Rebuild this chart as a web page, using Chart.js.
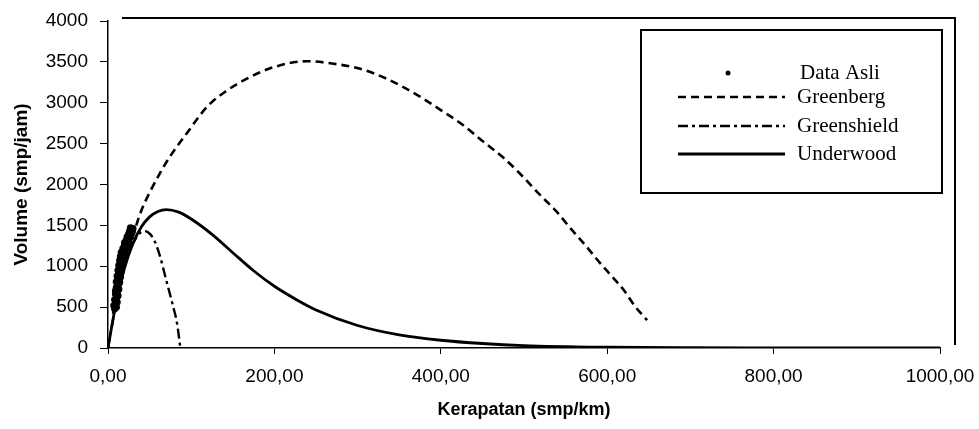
<!DOCTYPE html>
<html>
<head>
<meta charset="utf-8">
<script src="https://cdn.jsdelivr.net/npm/chart.js@4/dist/chart.umd.min.js"></script>
<style>
  body { margin: 0; background: #fff; }
  #wrap { width: 979px; height: 429px; }
</style>
</head>
<body>
<div id="wrap"><canvas id="chart" width="979" height="429"></canvas></div>
<script>
// Data Asli (observed points)
const dataK = [8, 10, 9, 11, 8, 10, 12, 9, 11, 13, 10, 12, 14, 10, 13, 15, 11, 14, 16, 12, 15, 17, 13, 16, 18, 14, 17, 19, 15, 18, 20, 16, 19, 21, 18, 21, 23, 20, 23, 25, 22, 25, 27, 23, 26, 28, 25, 27, 29, 26, 28, 30, 27, 29, 7, 9, 12, 14, 17, 20];
const dataQ = [480, 500, 530, 560, 590, 610, 640, 660, 690, 720, 740, 770, 800, 810, 840, 870, 880, 910, 940, 950, 980, 1000, 1010, 1040, 1060, 1070, 1090, 1110, 1120, 1140, 1160, 1170, 1190, 1210, 1220, 1240, 1260, 1270, 1290, 1310, 1320, 1340, 1360, 1360, 1380, 1400, 1400, 1420, 1440, 1430, 1450, 1460, 1470, 1420, 520, 700, 860, 990, 1130, 1290];

// Greenberg
const greenbergK = [6, 10, 20, 30, 40, 50, 62, 75, 95, 119, 143, 167, 199, 239, 271, 303, 335, 375, 400, 425, 451, 475, 495, 519, 539, 557, 571, 591, 607, 621, 633, 648];
const greenbergQ = [420, 600, 1020, 1370, 1680, 1900, 2130, 2350, 2630, 2950, 3150, 3295, 3435, 3508, 3478, 3415, 3293, 3075, 2910, 2740, 2525, 2330, 2135, 1875, 1670, 1450, 1290, 1045, 860, 695, 515, 340];

// Greenshield
const greenshieldK = [0, 10, 20, 30, 43, 48, 55, 62, 70, 78, 83, 87];
const greenshieldQ = [0, 560, 1000, 1280, 1430, 1415, 1330, 1140, 830, 520, 300, 0];

// Underwood
const underwoodK = [0, 10, 20, 30, 40, 50, 60, 70, 85, 100, 125, 150, 175, 200, 225, 250, 300, 350, 400, 450, 500, 600, 700, 800, 1000];
const underwoodQ = [0, 566, 982, 1279, 1479, 1604, 1670, 1693, 1662, 1578, 1390, 1166, 945, 755, 600, 465, 275, 160, 95, 55, 30, 10, 3, 1, 0];

const xTicks = [0, 200, 400, 600, 800, 1000];
const yTicks = [0, 500, 1000, 1500, 2000, 2500, 3000, 3500, 4000];

const pts = (xs, ys) => xs.map((x, i) => ({ x: x, y: ys[i] }));

// frame lines + legend box drawn by hand
const framePlugin = {
  id: 'frame',
  afterDraw(chart) {
    const ctx = chart.ctx;
    const area = chart.chartArea;
    ctx.save();
    ctx.strokeStyle = '#000';
    ctx.lineWidth = 2;
    ctx.beginPath();
    ctx.moveTo(area.left + 14, area.top - 3);
    ctx.lineTo(955, area.top - 3);
    ctx.lineTo(955, area.bottom - 3);
    ctx.stroke();

    // legend
    ctx.lineWidth = 2;
    ctx.strokeRect(641, 30, 301, 163);
    const ds = chart.data.datasets;
    const rows = [
      { y: 73, tx: 800 },
      { y: 97, tx: 797 },
      { y: 126, tx: 797 },
      { y: 154, tx: 797 }
    ];
    ctx.font = '21px "Liberation Serif", "Times New Roman", serif';
    ctx.textBaseline = 'middle';
    ctx.fillStyle = '#000';
    ds.forEach((d, i) => {
      const r = rows[i];
      if (d.showLine === false) {
        ctx.beginPath();
        ctx.arc(728, r.y, 2.5, 0, Math.PI * 2);
        ctx.fill();
      } else {
        ctx.setLineDash(d.borderDash || []);
        ctx.lineWidth = d.borderWidth;
        ctx.beginPath();
        ctx.moveTo(678, r.y);
        ctx.lineTo(785, r.y);
        ctx.stroke();
        ctx.setLineDash([]);
      }
      ctx.fillText(d.label, r.tx, r.y);
    });
    ctx.restore();
  }
};

const tickFont = { family: '"Liberation Sans", Arial, sans-serif', size: 19 };

new Chart(document.getElementById('chart').getContext('2d'), {
  type: 'scatter',
  data: {
    datasets: [
      {
        label: 'Data Asli',
        data: pts(dataK, dataQ),
        showLine: false,
        pointRadius: 3.6,
        backgroundColor: '#000',
        borderColor: '#000',
        borderWidth: 0
      },
      {
        label: 'Greenberg',
        data: pts(greenbergK, greenbergQ),
        showLine: true,
        pointRadius: 0,
        borderColor: '#000',
        borderWidth: 2.6,
        borderDash: [8, 5],
        cubicInterpolationMode: 'monotone'
      },
      {
        label: 'Greenshield',
        data: pts(greenshieldK, greenshieldQ),
        showLine: true,
        pointRadius: 0,
        borderColor: '#000',
        borderWidth: 2.4,
        borderDash: [10, 4, 3, 4],
        cubicInterpolationMode: 'monotone'
      },
      {
        label: 'Underwood',
        data: pts(underwoodK, underwoodQ),
        showLine: true,
        pointRadius: 0,
        borderColor: '#000',
        borderWidth: 2.8,
        cubicInterpolationMode: 'monotone'
      }
    ]
  },
  options: {
    responsive: false,
    animation: false,
    layout: { padding: { top: 21, right: 39, left: 0, bottom: 0 } },
    plugins: {
      legend: { display: false },
      tooltip: { enabled: false }
    },
    scales: {
      x: {
        type: 'linear',
        min: 0,
        max: 1000,
        afterFit: s => { s.height = 81; s.paddingLeft = 0; s.paddingRight = 0; },
        afterBuildTicks: s => { s.ticks = xTicks.map(v => ({ value: v })); },
        ticks: {
          color: '#000',
          font: tickFont,
          padding: 11,
          maxRotation: 0,
          autoSkip: false,
          callback: v => v.toFixed(2).replace('.', ',')
        },
        grid: { drawOnChartArea: false, tickLength: 6, color: '#000' },
        border: { color: '#000', width: 1.5 },
        title: {
          display: true,
          text: 'Kerapatan (smp/km)',
          color: '#000',
          font: { family: '"Liberation Sans", Arial, sans-serif', size: 18, weight: 'bold' },
          padding: { top: 0, bottom: 8 }
        }
      },
      y: {
        min: 0,
        max: 4000,
        afterFit: s => { s.width = 108; s.paddingTop = 0; s.paddingBottom = 0; },
        afterBuildTicks: s => { s.ticks = yTicks.map(v => ({ value: v })); },
        ticks: {
          color: '#000',
          font: tickFont,
          padding: 12,
          callback: v => String(v)
        },
        grid: { drawOnChartArea: false, tickLength: 8, color: '#000' },
        border: { color: '#000', width: 1.5 },
        title: {
          display: true,
          text: 'Volume (smp/jam)',
          color: '#000',
          font: { family: '"Liberation Sans", Arial, sans-serif', size: 19, weight: 'bold' },
          padding: { top: 10, bottom: 0 }
        }
      }
    }
  },
  plugins: [framePlugin]
});
</script>
</body>
</html>
